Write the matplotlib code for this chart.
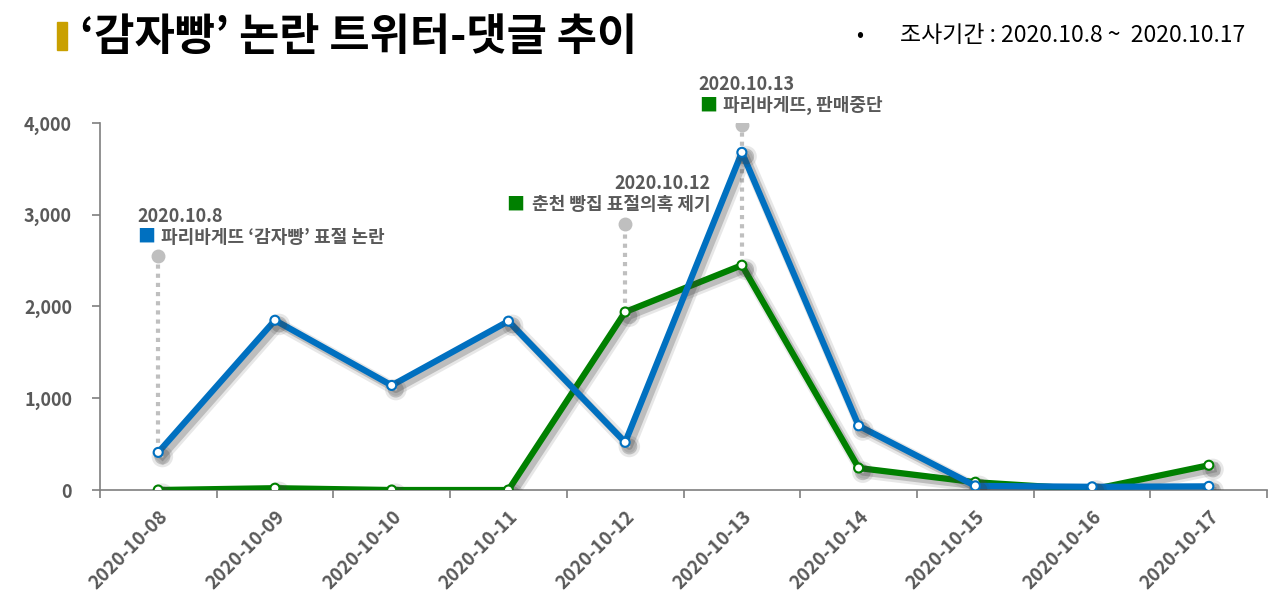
import matplotlib
matplotlib.use("Agg")
import matplotlib.pyplot as plt
import matplotlib.patheffects as pe
from matplotlib.ticker import FuncFormatter, FixedLocator

plt.rcParams['font.family'] = ['Noto Sans CJK KR', 'DejaVu Sans']

dates = ['2020-10-08', '2020-10-09', '2020-10-10', '2020-10-11', '2020-10-12',
         '2020-10-13', '2020-10-14', '2020-10-15', '2020-10-16', '2020-10-17']
twitter = [410, 1850, 1140, 1840, 520, 3680, 700, 45, 35, 40]
comments = [0, 20, 0, 0, 1940, 2450, 240, 85, 5, 270]
yticks = [0, 1000, 2000, 3000, 4000]

# 이벤트 주석: (날짜 index, 점 높이, 연결 대상, 날짜 텍스트, 내용, 색)
events = [
    (0, 2550, twitter[0], '2020.10.8', "파리바게뜨 ‘감자빵’ 표절 논란", '#0070C0'),
    (4, 2900, comments[4], '2020.10.12', '춘천 빵집 표절의혹 제기', '#008000'),
    (5, 3980, comments[5], '2020.10.13', '파리바게뜨, 판매중단', '#008000'),
]

GRAY = '#595959'
BLUE = '#0070C0'
GREEN = '#008000'

fig = plt.figure(figsize=(12.8, 6.04), dpi=100)
ax = fig.add_axes([0.078, 0.1887, 0.912, 0.6077])

x = list(range(len(dates)))
shadow = [pe.SimpleLineShadow(offset=(3, -3), shadow_color='#404040', alpha=0.12, linewidth=9),
          pe.SimpleLineShadow(offset=(3, -3), shadow_color='#404040', alpha=0.25, linewidth=5),
          pe.Normal()]

# dotted leader lines
for i, top, bottom, d, txt, c in events:
    ax.plot([i, i], [bottom, top], ls=(0, (1, 1.2)), color='#BFBFBF', lw=3, zorder=1)
    ax.plot([i], [top], 'o', color='#BFBFBF', ms=9, zorder=1)

ax.plot(x, comments, color=GREEN, lw=4.5, marker='o', ms=6.5, mfc='white',
        mec=GREEN, mew=1.5, path_effects=shadow, zorder=3)
ax.plot(x, twitter, color=BLUE, lw=4.5, marker='o', ms=6.5, mfc='white',
        mec=BLUE, mew=1.5, path_effects=shadow, zorder=4)

# 이벤트 텍스트
offsets = {0: (-21, 'left'), 4: (85, 'right'), 5: (-43, 'left')}
for i, top, bottom, d, txt, c in events:
    dx, ha = offsets[i]
    ax.annotate(d, (i, top), xytext=(dx, 40), textcoords='offset pixels',
                ha=ha, va='center', fontsize=13, fontweight='bold', color=GRAY)
    if ha == 'left':
        ax.annotate('■', (i, top), xytext=(dx, 19), textcoords='offset pixels',
                    ha='left', va='center', fontsize=13, color=c)
        ax.annotate(txt, (i, top), xytext=(dx + 24, 19), textcoords='offset pixels',
                    ha='left', va='center', fontsize=13, fontweight='bold', color=GRAY)
    else:
        t = ax.annotate(txt, (i, top), xytext=(dx, 19), textcoords='offset pixels',
                        ha='right', va='center', fontsize=13, fontweight='bold', color=GRAY)
        fig.canvas.draw()
        w = t.get_window_extent().width
        ax.annotate('■', (i, top), xytext=(dx - w - 7, 19), textcoords='offset pixels',
                    ha='right', va='center', fontsize=13, color=c)

ax.set_xlim(-0.5, len(dates) - 0.5)
ax.set_ylim(0, 4000)
ax.set_xticks(x)
ax.set_xticklabels(dates, rotation=45, ha='right', rotation_mode='anchor',
                   fontsize=13.5, fontweight='bold', color=GRAY)
ax.xaxis.set_minor_locator(FixedLocator([v + 0.5 for v in range(-1, len(dates))]))
ax.tick_params(axis='x', which='major', length=0, pad=12)
ax.tick_params(axis='x', which='minor', length=6, color='#7F7F7F', width=1.2)
ax.set_yticks(yticks)
ax.yaxis.set_major_formatter(FuncFormatter(lambda v, p: f'{int(v):,}'))
ax.tick_params(axis='y', length=6, color='#7F7F7F', width=1.2, labelsize=13,
               labelcolor=GRAY, pad=14)
for lab in ax.get_yticklabels():
    lab.set_fontweight('bold')

for s in ['top', 'right']:
    ax.spines[s].set_visible(False)
for s in ['left', 'bottom']:
    ax.spines[s].set_color('#7F7F7F')
    ax.spines[s].set_linewidth(1.2)

# 제목
fig.patches.append(plt.Rectangle((57 / 1280, 1 - 50 / 604), 10 / 1280, 28 / 604,
                                 transform=fig.transFigure, color='#C9A000'))
fig.text(80 / 1280, 1 - 37 / 604, '‘감자빵’ 논란 트위터-댓글 추이', fontsize=31.5,
         fontweight='bold', color='black', va='center', ha='left')
fig.text(856 / 1280, 1 - 35 / 604, '•', fontsize=15, color='black', va='center')
fig.text(1245 / 1280, 1 - 36 / 604, '조사기간 : 2020.10.8 ~  2020.10.17', fontsize=16.5,
         color='black', va='center', ha='right')

fig.savefig('out.png', dpi=100)
